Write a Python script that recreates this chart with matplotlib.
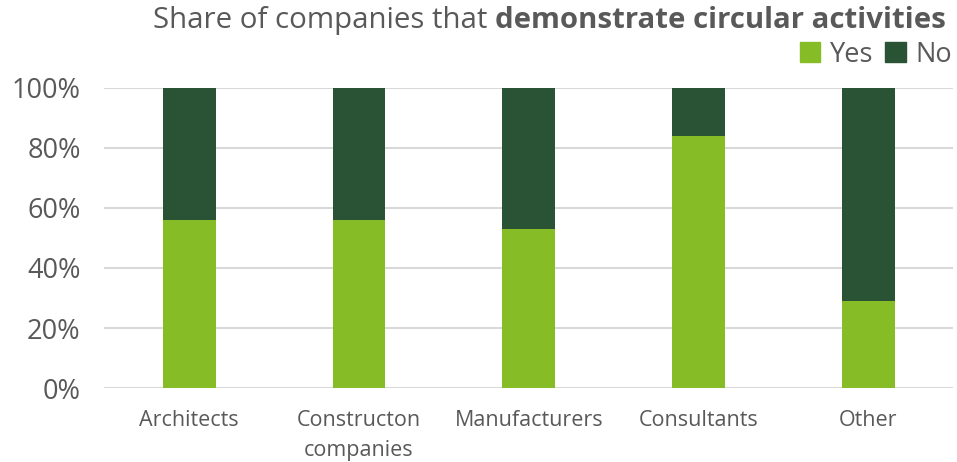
import numpy as np
import matplotlib.pyplot as plt
from matplotlib.patches import Patch

plt.rcParams['font.family'] = ['Open Sans', 'DejaVu Sans']

categories = ["Architects", "Constructon\ncompanies", "Manufacturers", "Consultants", "Other"]
yes = [56, 56, 53, 84, 29]
no = [44, 44, 47, 16, 71]

green = "#86BC25"
dark = "#2A5234"
grey = "#595959"

fig = plt.figure(figsize=(9.57, 4.62), dpi=100)
ax = fig.add_axes([0.109, 0.16, 0.887, 0.65])

x = np.arange(len(categories))
ax.bar(x, yes, width=0.31, color=green, zorder=3)
ax.bar(x, no, width=0.31, bottom=yes, color=dark, zorder=3)

ax.set_xlim(-0.5, len(categories) - 0.5)
ax.set_ylim(0, 100)
ax.set_yticks(range(0, 101, 20))
ax.set_yticklabels([f"{v}%" for v in range(0, 101, 20)])
ax.set_xticks(x)
ax.set_xticklabels(categories, linespacing=1.55)
ax.yaxis.grid(True, color="#D9D9D9", linewidth=1.5, zorder=0)
for s in ax.spines.values():
    s.set_visible(False)
ax.tick_params(axis="y", length=0, pad=17, labelsize=19.5, labelcolor=grey)
ax.tick_params(axis="x", length=0, pad=16, labelsize=15.5, labelcolor=grey)

fig.text(0.16, 0.94, "Share of companies that ", fontsize=21.2, color=grey, ha="left", va="baseline")
# bold part of the title placed right after the regular part
fig.canvas.draw()
r = fig.texts[0].get_window_extent()
fig.text(r.x1 / fig.bbox.width, 0.94, "demonstrate circular activities",
         fontsize=21.2, color=grey, fontweight="bold", ha="left", va="baseline")

handles = [Patch(color=green, label="Yes"), Patch(color=dark, label="No")]
fig.legend(handles=handles, loc="upper right", bbox_to_anchor=(1.006, 0.935), ncol=2,
           frameon=False, fontsize=19.5, labelcolor=grey, handlelength=0.75, handleheight=0.75,
           handletextpad=0.35, columnspacing=0.45, borderaxespad=0)

fig.savefig("out.png", dpi=100)
